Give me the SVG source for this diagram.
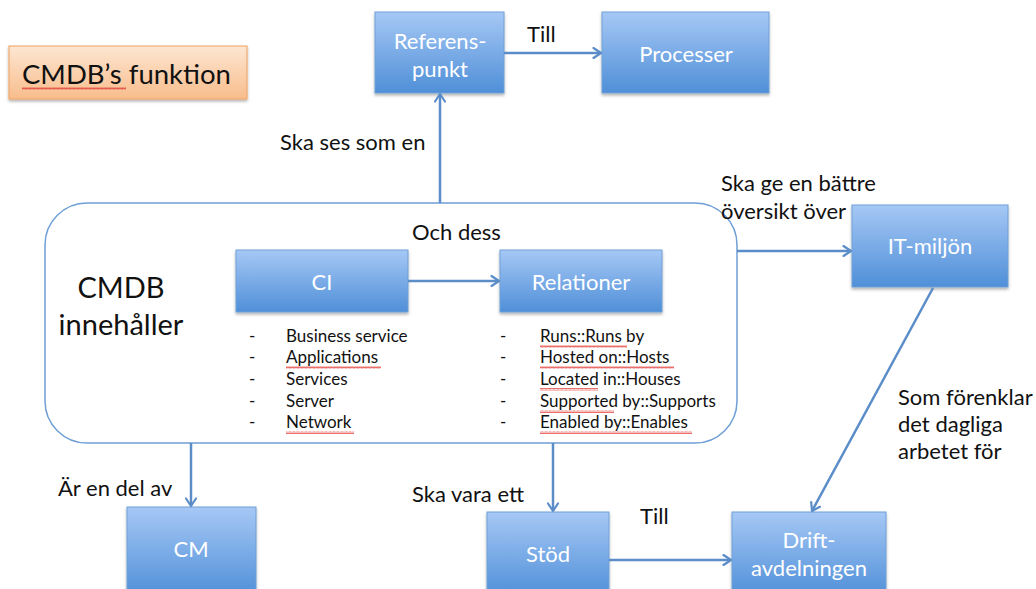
<svg xmlns="http://www.w3.org/2000/svg" width="1036" height="589" viewBox="0 0 1036 589">
<defs>
<linearGradient id="blue" x1="0" y1="0" x2="0" y2="1">
<stop offset="0" stop-color="#a6c8f5"/>
<stop offset="1" stop-color="#4f8fd8"/>
</linearGradient>
<linearGradient id="orange" x1="0" y1="0" x2="0" y2="1">
<stop offset="0" stop-color="#fde6d2"/>
<stop offset="1" stop-color="#f8bd8c"/>
</linearGradient>
<filter id="sh" x="-10%" y="-10%" width="125%" height="130%">
<feDropShadow dx="0" dy="2" stdDeviation="1.5" flood-color="#000" flood-opacity="0.3"/>
</filter>
<marker id="ah" viewBox="0 0 12 12" refX="10.5" refY="6" markerWidth="12" markerHeight="12" markerUnits="userSpaceOnUse" orient="auto">
<polyline points="3,1 10.5,6 3,11" fill="none" stroke="#5b8dc8" stroke-width="2.2" stroke-linecap="round" stroke-linejoin="round"/>
</marker>
<pattern id="wave" width="4" height="3" patternUnits="userSpaceOnUse">
<path d="M0,2.5 L1,0.5 L2,2.5 L3,0.5 L4,2.5" fill="none" stroke="#e0302a" stroke-width="0.7"/>
</pattern>
</defs>
<style>
.box{fill:url(#blue);stroke:#6e9fd6;stroke-width:1;filter:url(#sh)}
.bl{font-family:Lato,"Liberation Sans",sans-serif;font-size:22px;fill:#fff;text-anchor:middle}
.lbl{font-family:Lato,"Liberation Sans",sans-serif;font-size:22px;fill:#111}
.big{font-family:Lato,"Liberation Sans",sans-serif;font-size:29px;fill:#111}
.li{font-family:Lato,"Liberation Sans",sans-serif;font-size:17px;fill:#111}
.con{fill:none;stroke:#5b8dc8;stroke-width:2.5;marker-end:url(#ah)}
.sq{fill:url(#wave)}
</style>
<rect width="1036" height="589" fill="#fff"/>

<g id="title">
<rect x="9" y="46" width="238" height="53" fill="url(#orange)" stroke="#f0a060" stroke-width="1" filter="url(#sh)"/>
<text class="big" x="22" y="84" style="font-size:27.5px">CMDB’s funktion</text>
<rect class="sq" x="22" y="87" width="104" height="3"/>
</g>

<g id="cmdb">
<rect x="45" y="203" width="692" height="240" rx="42" ry="42" fill="#fff" stroke="#6e9fd6" stroke-width="1.5"/>
<text class="big" x="121" y="298" text-anchor="middle">CMDB</text>
<text class="big" x="121" y="335" text-anchor="middle">innehåller</text>
<text class="lbl" x="412" y="240">Och dess</text>
</g>

<g id="referens">
<rect class="box" x="375" y="12" width="129" height="81"/>
<text class="bl" x="440" y="49">Referens-</text>
<text class="bl" x="440" y="77">punkt</text>
</g>

<g id="processer">
<rect class="box" x="602" y="12" width="167" height="81"/>
<text class="bl" x="686" y="62">Processer</text>
</g>

<g id="ci">
<rect class="box" x="236" y="250" width="172" height="62"/>
<text class="bl" x="322" y="290">CI</text>
<g class="li">
<text x="249" y="342">-</text><text x="286" y="342">Business service</text>
<text x="249" y="363">-</text><text x="286" y="363">Applications</text>
<text x="249" y="385">-</text><text x="286" y="385">Services</text>
<text x="249" y="407">-</text><text x="286" y="407">Server</text>
<text x="249" y="428">-</text><text x="286" y="428">Network</text>
</g>
<rect class="sq" x="286" y="366" width="95" height="3"/>
<rect class="sq" x="286" y="431" width="68" height="3"/>
</g>

<g id="relationer">
<rect class="box" x="500" y="250" width="162" height="62"/>
<text class="bl" x="581" y="290">Relationer</text>
<g class="li">
<text x="500" y="342">-</text><text x="540" y="342">Runs::Runs by</text>
<text x="500" y="363">-</text><text x="540" y="363">Hosted on::Hosts</text>
<text x="500" y="385">-</text><text x="540" y="385">Located in::Houses</text>
<text x="500" y="407">-</text><text x="540" y="407">Supported by::Supports</text>
<text x="500" y="428">-</text><text x="540" y="428">Enabled by::Enables</text>
</g>
<rect class="sq" x="540" y="345" width="87" height="3"/>
<rect class="sq" x="540" y="366" width="134" height="3"/>
<rect class="sq" x="540" y="388" width="58" height="3"/>
<rect class="sq" x="540" y="410" width="74" height="3"/>
<rect class="sq" x="540" y="431" width="152" height="3"/>
</g>

<g id="itmiljon">
<rect class="box" x="852" y="205" width="156" height="82"/>
<text class="bl" x="930" y="254">IT-miljön</text>
</g>

<g id="cm">
<rect class="box" x="127" y="507" width="129" height="90"/>
<text class="bl" x="191" y="557">CM</text>
</g>

<g id="stod">
<rect class="box" x="487" y="512" width="122" height="85"/>
<text class="bl" x="548" y="562">Stöd</text>
</g>

<g id="drift">
<rect class="box" x="732" y="512" width="154" height="85"/>
<text class="bl" x="809" y="548">Drift-</text>
<text class="bl" x="809" y="576">avdelningen</text>
</g>

<g id="connectors">
<line class="con" x1="504" y1="53" x2="601" y2="53"/>
<line class="con" x1="440" y1="203" x2="440" y2="94"/>
<line class="con" x1="408" y1="281" x2="499" y2="281"/>
<line class="con" x1="737" y1="251" x2="851" y2="251"/>
<line class="con" x1="933" y1="288" x2="812" y2="511"/>
<line class="con" x1="191" y1="443" x2="191" y2="506"/>
<line class="con" x1="553" y1="443" x2="553" y2="511"/>
<line class="con" x1="609" y1="560" x2="731" y2="560"/>
<text class="lbl" x="527" y="42">Till</text>
<text class="lbl" x="280" y="150">Ska ses som en</text>
<text class="lbl" x="721" y="191">Ska ge en bättre</text>
<text class="lbl" x="721" y="219">översikt över</text>
<text class="lbl" x="898" y="405">Som förenklar</text>
<text class="lbl" x="898" y="432">det dagliga</text>
<text class="lbl" x="898" y="459">arbetet för</text>
<text class="lbl" x="58" y="496">Är en del av</text>
<text class="lbl" x="412" y="502">Ska vara ett</text>
<text class="lbl" x="640" y="524">Till</text>
</g>
</svg>
